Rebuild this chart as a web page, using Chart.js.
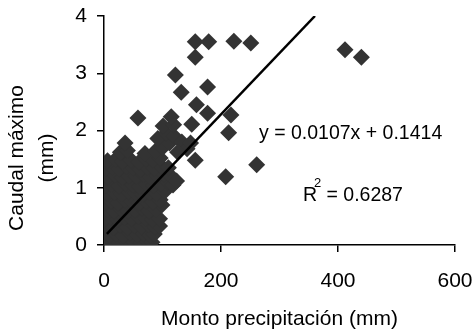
<!DOCTYPE html>
<html>
<head>
<meta charset="utf-8">
<script src="https://cdn.jsdelivr.net/npm/chart.js@4/dist/chart.umd.min.js"></script>
<style>
  html, body { margin: 0; padding: 0; background: #fff; }
  #wrap { width: 475px; height: 334px; position: relative; }
</style>
</head>
<body>
<div id="wrap"><canvas id="c"></canvas></div>
<script>
// Monto de precipitación (mm) y caudal máximo (mm) por evento
const precipitacion = [
  3, 14, 26, 38, 51, 63, 74, 82,
  1, 9, 21, 33, 45, 57, 68, 79, 86,
  4, 16, 28, 40, 52, 64, 76, 87, 95,
  2, 11, 23, 35, 47, 59, 71, 83, 95,
  5, 17, 29, 41, 53, 65, 77, 89, 99,
  1, 12, 24, 36, 48, 60, 72, 84, 96,
  6, 18, 30, 42, 54, 66, 78, 90, 104,
  2, 13, 25, 37, 49, 61, 73, 85, 97, 110, 118,
  7, 19, 31, 43, 55, 67, 79, 91, 103, 113,
  3, 14, 26, 38, 50, 62, 74, 86, 98, 110,
  6, 20, 32, 46, 60, 72, 84, 96,
  28, 40, 70, 88, 100, 112, 92, 106, 120, 101, 119, 133, 142, 126, 124,
  156, 179, 222, 251, 156, 122, 132, 177, 158, 115, 150, 177, 217, 213,
  148, 156, 261, 208, 58, 36, 412, 440
];
const caudal = [
  0.04, 0.06, 0.03, 0.07, 0.05, 0.04, 0.06, 0.05,
  0.20, 0.17, 0.19, 0.16, 0.21, 0.18, 0.20, 0.17, 0.19,
  0.33, 0.31, 0.35, 0.30, 0.34, 0.32, 0.36, 0.31, 0.33,
  0.47, 0.49, 0.45, 0.48, 0.46, 0.50, 0.47, 0.44, 0.46,
  0.62, 0.60, 0.63, 0.59, 0.61, 0.64, 0.60, 0.62, 0.70,
  0.75, 0.77, 0.74, 0.78, 0.76, 0.73, 0.77, 0.75, 0.79,
  0.90, 0.92, 0.89, 0.93, 0.91, 0.88, 0.92, 0.90, 0.94,
  1.04, 1.06, 1.03, 1.07, 1.05, 1.02, 1.06, 1.04, 1.07, 1.10, 1.05,
  1.19, 1.22, 1.18, 1.21, 1.20, 1.23, 1.19, 1.21, 1.24, 1.22,
  1.34, 1.36, 1.33, 1.37, 1.35, 1.32, 1.36, 1.34, 1.38, 1.35,
  1.47, 1.50, 1.46, 1.49, 1.45, 1.50, 1.48, 1.52,
  1.62, 1.65, 1.60, 1.64, 1.70, 1.78, 1.86, 1.95, 1.90, 2.08, 2.10, 1.80, 1.68, 1.62, 1.12,
  3.55, 3.55, 3.56, 3.53, 3.28, 2.97, 2.67, 2.76, 2.45, 2.24, 2.11, 2.30, 2.27, 1.96,
  1.78, 1.48, 1.40, 1.19, 2.22, 1.78, 3.41, 3.28
];

// Ajuste lineal y = a·x + b
const pendiente = 0.0107;
const intercepto = 0.1414;
const r2 = 0.6287;
const rangoAjuste = [5, (4 - intercepto) / pendiente];

const xTicks = [0, 200, 400, 600];
const yTicks = [0, 1, 2, 3, 4];

const puntos = precipitacion.map((x, i) => ({ x: x, y: caudal[i] }));
const recta = rangoAjuste.map(x => ({ x: x, y: pendiente * x + intercepto }));

const FONT = '"Liberation Sans", Arial, sans-serif';

const textos = {
  id: 'textos',
  afterDatasetsDraw(chart) {
    const ctx = chart.ctx;
    ctx.save();
    ctx.fillStyle = '#000';
    ctx.font = '19.5px ' + FONT;
    ctx.textBaseline = 'middle';
    // ecuación
    ctx.textAlign = 'left';
    ctx.fillText('y = ' + pendiente + 'x + ' + intercepto, 259, 134);
    // R²
    const base = 'R';
    ctx.fillText(base, 303, 196);
    const w = ctx.measureText(base).width;
    ctx.font = '13px ' + FONT;
    ctx.fillText('2', 303 + w - 3, 183);
    ctx.font = '19.5px ' + FONT;
    ctx.fillText(' = ' + r2, 303 + w + 4, 196);
    // título eje y (dos líneas, girado)
    ctx.font = '21px ' + FONT;
    ctx.translate(17, 158);
    ctx.rotate(-Math.PI / 2);
    ctx.textAlign = 'center';
    ctx.fillText('Caudal máximo', 0, 0);
    ctx.fillText('(mm)', 0, 30);
    ctx.restore();
  }
};

new Chart(document.getElementById('c'), {
  type: 'scatter',
  data: {
    datasets: [
      {
        type: 'line',
        data: recta,
        borderColor: '#000',
        borderWidth: 2.5,
        pointRadius: 0,
        fill: false,
        order: 0
      },
      {
        data: puntos,
        pointStyle: 'rectRot',
        pointRadius: 8.5,
        pointBackgroundColor: '#333333',
        pointBorderColor: '#333333',
        pointBorderWidth: 0,
        order: 1
      }
    ]
  },
  options: {
    responsive: true,
    maintainAspectRatio: false,
    animation: false,
    events: [],
    layout: { padding: { left: 0, top: 16, right: 20, bottom: 0 } },
    plugins: { legend: { display: false }, tooltip: { enabled: false } },
    scales: {
      x: {
        type: 'linear',
        min: 0, max: 600,
        afterBuildTicks: s => { s.ticks = xTicks.map(v => ({ value: v })); },
        afterFit: s => { s.height = 89; s.paddingLeft = 0; s.paddingRight = 0; },
        ticks: { color: '#000', font: { family: FONT, size: 21 }, padding: 17, maxRotation: 0 },
        grid: { drawOnChartArea: false, drawTicks: true, tickLength: 7, color: '#000', lineWidth: 1.5 },
        border: { color: '#000', width: 1.5 },
        title: {
          display: true,
          text: 'Monto precipitación (mm)',
          color: '#000',
          font: { family: FONT, size: 21 },
          padding: { top: 0, bottom: 2 }
        }
      },
      y: {
        type: 'linear',
        min: 0, max: 4,
        afterBuildTicks: s => { s.ticks = yTicks.map(v => ({ value: v })); },
        afterFit: s => { s.width = 104; s.paddingTop = 0; s.paddingBottom = 0; },
        ticks: { color: '#000', font: { family: FONT, size: 21 }, padding: 10 },
        grid: { drawOnChartArea: false, drawTicks: true, tickLength: 7, color: '#000', lineWidth: 1.5 },
        border: { color: '#000', width: 1.5 }
      }
    }
  },
  plugins: [textos]
});
</script>
</body>
</html>
